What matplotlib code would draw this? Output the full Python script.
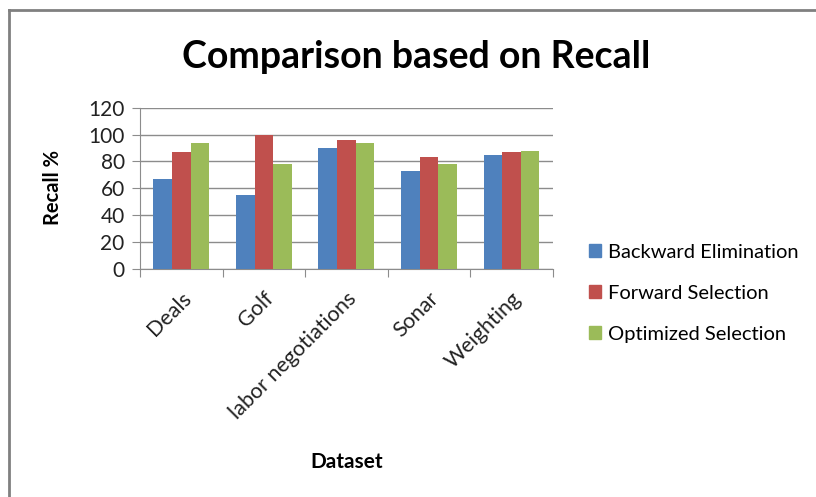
import matplotlib
matplotlib.use('Agg')
import matplotlib.pyplot as plt
import numpy as np
from matplotlib.lines import Line2D

datasets = ['Deals', 'Golf', 'labor negotiations', 'Sonar', 'Weighting']
backward = [67, 55, 90, 73, 85]
forward = [87, 100, 96, 83, 87]
optimized = [94, 78, 94, 78, 88]
series_names = ['Backward Elimination', 'Forward Selection', 'Optimized Selection']
colors = ['#4F81BD', '#C0504D', '#9BBB59']
yticks = [0, 20, 40, 60, 80, 100, 120]

plt.rcParams['font.family'] = ['Lato', 'DejaVu Sans']

fig = plt.figure(figsize=(8.16, 4.97), dpi=100)
ax = fig.add_axes([0.1716, 0.4588, 0.5057, 0.3245])

x = np.arange(len(datasets))
w = 0.225
for i, (vals, name, c) in enumerate(zip([backward, forward, optimized], series_names, colors)):
    ax.bar(x + (i - 1) * w, vals, w, color=c, label=name, zorder=3)

ax.set_xlim(-0.5, len(datasets) - 0.5)
ax.set_ylim(0, 120)
ax.set_yticks(yticks)
ax.set_yticklabels([str(v) for v in yticks], fontsize=15, color='#222222')
ax.yaxis.grid(True, color='#8c8c8c', linewidth=1, zorder=0)
ax.set_xticks(np.arange(-0.5, len(datasets), 1.0))
ax.set_xticklabels([])
ax.set_xticks(x, minor=True)
ax.set_xticklabels(datasets, minor=True, rotation=45, ha='right',
                   rotation_mode='anchor', fontsize=15.5, color='#222222')
ax.tick_params(axis='x', which='minor', length=0, pad=14)
ax.tick_params(axis='x', which='major', length=6, color='#8c8c8c', direction='out')
ax.tick_params(axis='y', length=6, color='#8c8c8c', direction='out', pad=5)
for s in ['top', 'right']:
    ax.spines[s].set_visible(False)
for s in ['left', 'bottom']:
    ax.spines[s].set_color('#8c8c8c')

fig.text(0.51, 0.885, 'Comparison based on Recall', ha='center', va='center',
         fontsize=27, fontweight='bold')
fig.text(0.065, 0.622, 'Recall %', rotation=90, ha='center', va='center',
         fontsize=14.5, fontweight='bold')
fig.text(0.425, 0.07, 'Dataset', ha='center', va='center',
         fontsize=15, fontweight='bold')

handles = [plt.Rectangle((0, 0), 1, 1, color=c) for c in colors]
fig.legend(handles, series_names, loc='center left', bbox_to_anchor=(0.7, 0.41),
           frameon=False, fontsize=14.5, handlelength=0.6, handleheight=0.6,
           handletextpad=0.35, labelspacing=1.2)

# outer frame (only top and left edges show)
fig.add_artist(Line2D([0.011, 0.011], [0, 0.979], color='#808080', linewidth=2))
fig.add_artist(Line2D([0.011, 1.0], [0.979, 0.979], color='#808080', linewidth=2))

fig.savefig('out.png', dpi=100)
